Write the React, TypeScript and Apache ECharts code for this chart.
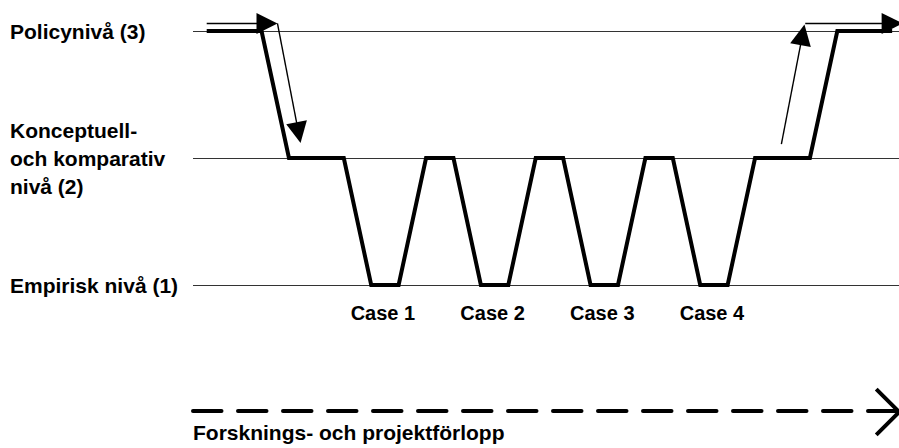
import React, { useEffect, useRef } from "react";
import * as echarts from "echarts";

// Process time (arbitrary steps) and level (1 = empirisk, 2 = konceptuell, 3 = policy)
const PATH_T = [0, 2, 3, 5, 6, 7, 8, 9, 10, 11, 12, 13, 14, 15, 16, 17, 18, 19, 20, 22, 23, 25];
const PATH_LEVEL = [3, 3, 2, 2, 1, 1, 2, 2, 1, 1, 2, 2, 1, 1, 2, 2, 1, 1, 2, 2, 3, 3];

const LEVEL_LABELS = [
  "Empirisk nivå (1)",
  "Konceptuell-\noch komparativ\nnivå (2)",
  "Policynivå (3)",
];

const CASE_LABELS = ["Case 1", "Case 2", "Case 3", "Case 4"];
const CASE_T = [6.5, 10.5, 14.5, 18.5];

// thin arrows: [from, to(arrow head centre)]
const THIN_ARROWS: number[][][] = [
  [[0, 3.06], [2.2, 3.06]],
  [[2.58, 3.06], [3.35, 2.2]],
  [[20.96, 2.11], [21.73, 2.97]],
  [[21.83, 3.06], [25.0, 3.06]],
];

const CHEVRON = [
  [24.42, 0.18],
  [25.26, 0],
  [24.42, -0.18],
];

const X_NAME = "Forsknings- och projektförlopp";

const FONT = "'Liberation Sans', Arial, Helvetica, sans-serif";

export default function App() {
  const ref = useRef<HTMLDivElement>(null);
  useEffect(() => {
    if (!ref.current) return;
    const chart = echarts.init(ref.current, null, { renderer: "svg" });
    chart.setOption({
      animation: false,
      backgroundColor: "#ffffff",
      grid: { left: 193, right: 0, top: 31, bottom: 163, containLabel: false },
      xAxis: {
        type: "value",
        min: -0.5,
        max: 25.25,
        offset: 126,
        axisLine: {
          show: true,
          lineStyle: { color: "#000", width: 4, type: [28.5, 16.5] },
        },
        axisTick: { show: false },
        axisLabel: { show: false },
        splitLine: { show: false },
        name: X_NAME,
        nameLocation: "start",
        nameGap: 0,
        nameTextStyle: {
          fontFamily: FONT,
          fontSize: 21,
          fontWeight: "bold",
          color: "#000",
          align: "left",
          verticalAlign: "top",
          padding: [11, 0, 0, 0],
        },
      },
      yAxis: {
        type: "value",
        min: 1,
        max: 3,
        interval: 1,
        axisLine: { show: false },
        axisTick: { show: false },
        axisLabel: {
          formatter: (v: number) => LEVEL_LABELS[Math.round(v) - 1] || "",
          align: "left",
          margin: 183,
          fontFamily: FONT,
          fontSize: 21,
          fontWeight: "bold",
          color: "#000",
          lineHeight: 28,
        },
        splitLine: { show: true, lineStyle: { color: "#333", width: 1 } },
      },
      series: [
        {
          type: "line",
          data: PATH_T.map((t, i) => [t, PATH_LEVEL[i]]),
          symbol: "none",
          clip: false,
          lineStyle: { color: "#000", width: 4, join: "miter" },
          z: 3,
        },
        {
          type: "lines",
          coordinateSystem: "cartesian2d",
          clip: false,
          symbol: ["none", "triangle"],
          symbolSize: 21,
          lineStyle: { color: "#000", width: 1.4, opacity: 1, curveness: 0 },
          itemStyle: { color: "#000" },
          data: THIN_ARROWS.map((c) => ({ coords: c })),
          z: 4,
        },
        {
          type: "line",
          data: CHEVRON,
          symbol: "none",
          clip: false,
          lineStyle: { color: "#000", width: 4, join: "miter" },
          z: 3,
        },
        {
          type: "scatter",
          symbolSize: 0,
          clip: false,
          itemStyle: { opacity: 1, color: "#000" },
          data: CASE_T.map((t, i) => ({ name: CASE_LABELS[i], value: [t, 1] })),
          label: {
            show: true,
            position: "bottom",
            distance: 18,
            offset: [-2, 0],
            formatter: "{b}",
            fontFamily: FONT,
            fontSize: 20,
            fontWeight: "bold",
            color: "#000",
            opacity: 1,
          },
        },
      ],
    });
    return () => chart.dispose();
  }, []);
  return (
    <div
      ref={ref}
      style={{ position: "fixed", left: 0, top: 0, width: 899, height: 448, background: "#fff" }}
    />
  );
}
